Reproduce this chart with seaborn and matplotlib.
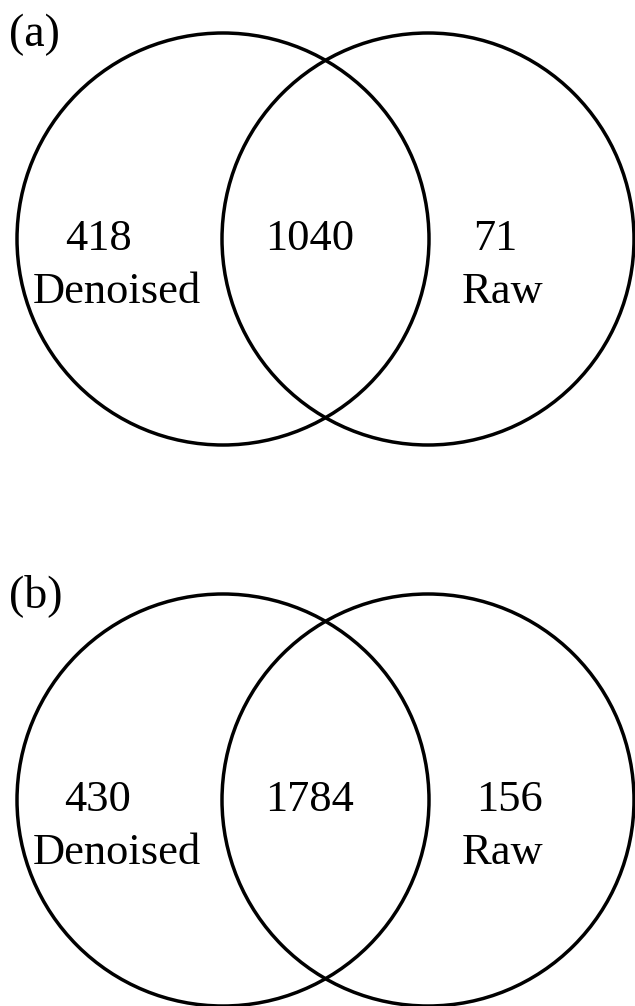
import matplotlib.pyplot as plt
from matplotlib.patches import Circle
import seaborn as sns

# Venn counts per panel: (denoised only, shared, raw only)
panels = ["(a)", "(b)"]
denoised_only = [418, 430]
shared = [1040, 1784]
raw_only = [71, 156]
set_names = ["Denoised", "Raw"]

sns.set_style("white")
plt.rcParams["font.family"] = ["Liberation Serif", "DejaVu Serif"]
plt.rcParams["text.color"] = "black"

fig = plt.figure(figsize=(6.35, 10.06), dpi=100)
ax = fig.add_axes([0, 0, 1, 1])
ax.set_xlim(0, 635)
ax.set_ylim(1006, 0)
ax.set_aspect("equal")
ax.axis("off")

# layout in pixel units
centers_y = [239, 800]
left_x, right_x, radius = 223, 428, 206
fs = 32

for i, tag in enumerate(panels):
    cy = centers_y[i]
    for cx in (left_x, right_x):
        ax.add_patch(Circle((cx, cy), radius, fill=False, lw=2.5, ec="black"))

    ax.text(9, cy - 193, tag, fontsize=fs + 1, ha="left", va="baseline")
    ax.text(98, cy + 11, str(denoised_only[i]), fontsize=fs, ha="center", va="baseline")
    ax.text(117, cy + 64, set_names[0], fontsize=fs, ha="center", va="baseline")
    ax.text(310, cy + 11, str(shared[i]), fontsize=fs, ha="center", va="baseline")
    raw_x = 495 if len(str(raw_only[i])) < 3 else 509
    ax.text(raw_x, cy + 11, str(raw_only[i]), fontsize=fs, ha="center", va="baseline")
    ax.text(503, cy + 64, set_names[1], fontsize=fs, ha="center", va="baseline")

fig.savefig("out.png", dpi=100)
